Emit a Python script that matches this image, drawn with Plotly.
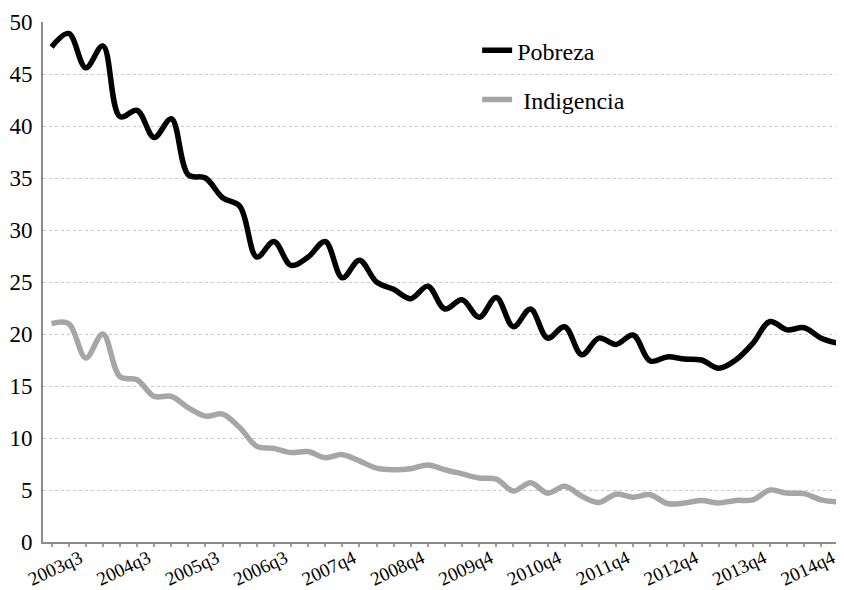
import plotly.graph_objects as go

quarters = [
    "2003q1", "2003q2", "2003q3", "2003q4",
    "2004q1", "2004q2", "2004q3", "2004q4",
    "2005q1", "2005q2", "2005q3", "2005q4",
    "2006q1", "2006q2", "2006q3", "2006q4",
    "2007q1", "2007q2", "2007q4",
    "2008q1", "2008q2", "2008q3", "2008q4",
    "2009q1", "2009q2", "2009q3", "2009q4",
    "2010q1", "2010q2", "2010q3", "2010q4",
    "2011q1", "2011q2", "2011q3", "2011q4",
    "2012q1", "2012q2", "2012q3", "2012q4",
    "2013q1", "2013q2", "2013q3", "2013q4",
    "2014q1", "2014q2", "2014q3", "2014q4",
]

pobreza = [
    47.6, 48.9, 45.6, 47.7, 40.9, 41.5, 38.9, 40.7, 35.3, 35.0,
    33.1, 32.3, 27.4, 28.9, 26.6, 27.4, 28.9, 25.4, 27.1, 25.0,
    24.3, 23.4, 24.6, 22.4, 23.3, 21.6, 23.5, 20.7, 22.4, 19.6,
    20.7, 18.0, 19.6, 19.0, 19.9, 17.4, 17.8, 17.6, 17.5, 16.7,
    17.5, 19.1, 21.2, 20.4, 20.6, 19.6, 19.1,
]

indigencia = [
    21.0, 21.0, 17.7, 20.0, 15.9, 15.6, 14.0, 14.0, 12.9, 12.1,
    12.3, 11.0, 9.2, 9.0, 8.6, 8.7, 8.1, 8.4, 7.8, 7.1,
    6.95, 7.05, 7.4, 6.95, 6.55, 6.15, 6.05, 4.9, 5.7, 4.7,
    5.35, 4.4, 3.8, 4.6, 4.3, 4.55, 3.7, 3.75, 4.0, 3.75,
    4.0, 4.05, 5.0, 4.7, 4.65, 4.05, 3.85,
]

tick_labels = [
    "2003q3", "2004q3", "2005q3", "2006q3", "2007q4", "2008q4",
    "2009q4", "2010q4", "2011q4", "2012q4", "2013q4", "2014q4",
]

x_idx = list(range(len(quarters)))
tick_pos = [quarters.index(t) for t in tick_labels]

SERIF = "Times New Roman, Liberation Serif, DejaVu Serif, serif"

fig = go.Figure()
fig.add_trace(go.Scatter(
    x=x_idx, y=pobreza, mode="lines", name="Pobreza", legendgroup="p",
    line=dict(color="black", width=5.5, shape="spline", smoothing=1.0),
    hovertext=quarters,
))
fig.add_trace(go.Scatter(
    x=x_idx, y=indigencia, mode="lines", name=" Indigencia", legendgroup="i",
    line=dict(color="#a6a6a6", width=5.5, shape="spline", smoothing=1.0),
    hovertext=quarters,
))

# page body has an 8px margin, so the figure is sized/margined to compensate
fig.update_layout(
    width=836, height=582,
    margin=dict(l=35, r=0, t=14, b=48, autoexpand=False),
    paper_bgcolor="white", plot_bgcolor="white",
    font=dict(family=SERIF, color="black"),
    showlegend=True,
    legend=dict(
        x=0.542, y=0.988, xanchor="left", yanchor="top",
        font=dict(size=24, family=SERIF, color="black"),
        traceorder="grouped", tracegroupgap=15,
        bgcolor="rgba(0,0,0,0)", borderwidth=0,
    ),
    xaxis=dict(
        range=[-0.5, 46.33],
        tickmode="array", tickvals=tick_pos, ticktext=tick_labels,
        tickangle=-25, tickfont=dict(size=19, family=SERIF),
        ticks="", ticklabelstandoff=-4, ticklabelshift=-6,
        minor=dict(ticks="outside", dtick=1, tick0=0, ticklen=3,
                   tickcolor="#a0a0a0", tickwidth=1.5, showgrid=False),
        showline=True, linecolor="#8c8c8c", linewidth=2,
        showgrid=False, zeroline=False, fixedrange=True, automargin=False,
    ),
    yaxis=dict(
        range=[0, 50], tickmode="linear", tick0=0, dtick=5,
        tickfont=dict(size=23, family=SERIF), ticklabelstandoff=4,
        showgrid=True, gridcolor="#c8c8c8", griddash="dot", gridwidth=1,
        showline=True, linecolor="#8c8c8c", linewidth=2,
        ticks="", zeroline=False, fixedrange=True, automargin=False,
    ),
)

fig.write_html("out.html")
